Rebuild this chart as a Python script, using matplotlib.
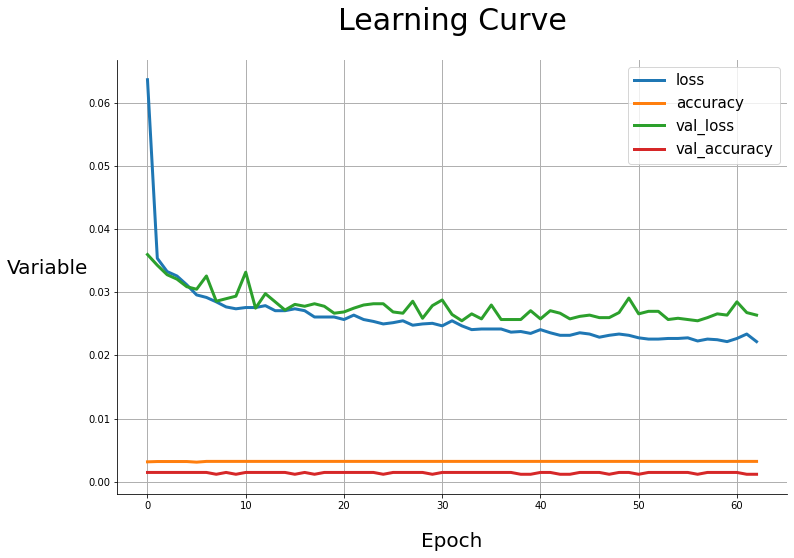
import numpy as np
import matplotlib
matplotlib.use('Agg')
import matplotlib.pyplot as plt

#################################################
# DATA
#################################################
epochs = list(range(63))

loss = [0.0637, 0.0354, 0.0333, 0.0326, 0.0312, 0.0296, 0.0292, 0.0285, 0.0277, 0.0274,
        0.0276, 0.0276, 0.0279, 0.0271, 0.0271, 0.0274, 0.0271, 0.0261, 0.0261, 0.0261,
        0.0257, 0.0264, 0.0257, 0.0254, 0.0250, 0.0252, 0.0255, 0.0248, 0.0250, 0.0251,
        0.0247, 0.0255, 0.0247, 0.0241, 0.0242, 0.0242, 0.0242, 0.0237, 0.0238, 0.0235,
        0.0241, 0.0236, 0.0232, 0.0232, 0.0236, 0.0234, 0.0229, 0.0232, 0.0234, 0.0232,
        0.0228, 0.0226, 0.0226, 0.0227, 0.0227, 0.0228, 0.0223, 0.0226, 0.0225, 0.0222,
        0.0227, 0.0234, 0.0222]

val_loss = [0.0360, 0.0343, 0.0328, 0.0321, 0.0309, 0.0305, 0.0326, 0.0286, 0.0290, 0.0294,
            0.0332, 0.0275, 0.0298, 0.0285, 0.0272, 0.0281, 0.0278, 0.0282, 0.0278, 0.0267,
            0.0269, 0.0275, 0.0280, 0.0282, 0.0282, 0.0269, 0.0267, 0.0286, 0.0259, 0.0279,
            0.0288, 0.0265, 0.0255, 0.0266, 0.0258, 0.0280, 0.0257, 0.0257, 0.0257, 0.0271,
            0.0258, 0.0271, 0.0267, 0.0258, 0.0262, 0.0264, 0.0260, 0.0260, 0.0268, 0.0291,
            0.0266, 0.0270, 0.0270, 0.0257, 0.0259, 0.0257, 0.0255, 0.0260, 0.0266, 0.0264,
            0.0285, 0.0268, 0.0264]

accuracy = [0.00315, 0.0032, 0.0032, 0.0032, 0.0032, 0.0031] + [0.00322] * 57

val_accuracy = [0.00147, 0.00147, 0.00147, 0.00147, 0.00147, 0.00147, 0.00147, 0.00118, 0.00147, 0.00118,
                0.00147, 0.00147, 0.00147, 0.00147, 0.00147, 0.00118, 0.00147, 0.00118, 0.00147, 0.00147,
                0.00147, 0.00147, 0.00147, 0.00147, 0.00118, 0.00147, 0.00147, 0.00147, 0.00147, 0.00118,
                0.00147, 0.00147, 0.00147, 0.00147, 0.00147, 0.00147, 0.00147, 0.00147, 0.00118, 0.00118,
                0.00147, 0.00147, 0.00118, 0.00118, 0.00147, 0.00147, 0.00147, 0.00118, 0.00147, 0.00147,
                0.00118, 0.00147, 0.00147, 0.00147, 0.00147, 0.00147, 0.00118, 0.00147, 0.00147, 0.00147,
                0.00147, 0.00118, 0.00118]

series = {'loss': loss, 'accuracy': accuracy, 'val_loss': val_loss, 'val_accuracy': val_accuracy}

#################################################
# PLOT
#################################################
fig = plt.figure(figsize=(794 / 72, 558 / 72), dpi=72)
ax = fig.add_axes([0.1474, 0.1147, 0.8438, 0.7778])

for name, values in series.items():
    ax.plot(epochs, values, linewidth=3, label=name)

ax.grid(True, color='#b0b0b0', linewidth=1)
ax.spines['top'].set_visible(False)
ax.spines['right'].set_visible(False)

ax.tick_params(labelsize=10)
ax.set_title('Learning Curve', fontsize=30, pad=30)
ax.set_xlabel('Epoch', fontsize=20, labelpad=21)
ax.set_ylabel('Variable', fontsize=20, rotation=0, va='center')
ax.yaxis.set_label_coords(-0.104, 0.52)

ax.legend(loc='upper right', fontsize=15)

plt.savefig('out.png', dpi=72)
